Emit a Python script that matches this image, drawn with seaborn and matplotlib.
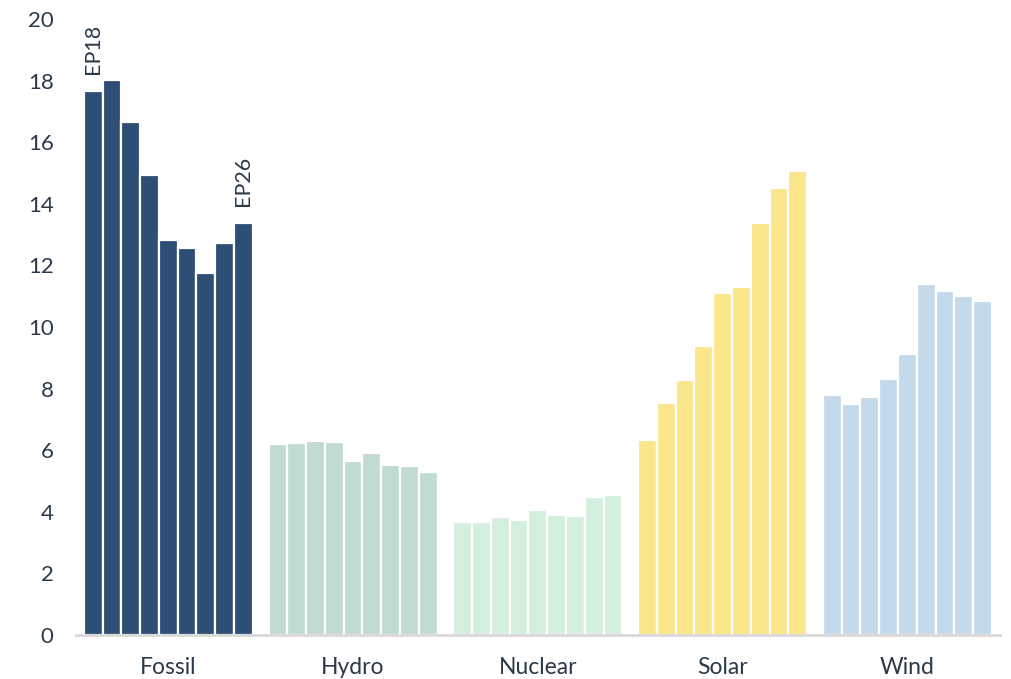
import numpy as np
import pandas as pd
import matplotlib
matplotlib.use("Agg")
import matplotlib.pyplot as plt
import seaborn as sns

# Energy sources and report editions
sources = ["Fossil", "Hydro", "Nuclear", "Solar", "Wind"]
editions = ["EP18", "EP19", "EP20", "EP21", "EP22", "EP23", "EP24", "EP25", "EP26"]

fossil = [17.66, 18.02, 16.64, 14.94, 12.82, 12.55, 11.74, 12.74, 13.39]
hydro = [6.19, 6.23, 6.31, 6.26, 5.65, 5.92, 5.53, 5.49, 5.30]
nuclear = [3.67, 3.65, 3.84, 3.72, 4.05, 3.89, 3.86, 4.48, 4.55]
solar = [6.33, 7.52, 8.28, 9.39, 11.11, 11.30, 13.38, 14.50, 15.06]
wind = [7.79, 7.50, 7.73, 8.31, 9.11, 11.41, 11.17, 11.01, 10.84]

source_colors = ["#2e4e75", "#c1dbd3", "#d5efdf", "#fbe68b", "#c4d9ea"]
text_color = "#2b3a4a"

values = [fossil, hydro, nuclear, solar, wind]
df = pd.DataFrame(
    [(s, e, v) for s, vals in zip(sources, values) for e, v in zip(editions, vals)],
    columns=["source", "edition", "value"],
)

sns.set_theme(style="white")
plt.rcParams["font.family"] = ["Lato", "DejaVu Sans"]

fig = plt.figure(figsize=(10.12, 6.79), dpi=100)
ax = fig.add_axes([0.075, 0.065, 0.913, 0.907])

sns.barplot(
    data=df, x="source", y="value", hue="edition",
    order=sources, hue_order=editions,
    width=0.915, gap=0, edgecolor="white", linewidth=1.6,
    legend=False, ax=ax, palette=["#888888"] * len(editions),
)

# Colour each bar by its energy source
for container in ax.containers:
    for i, bar in enumerate(container):
        bar.set_facecolor(source_colors[i])

# Edition labels above the first and last Fossil bars
first_bar = ax.containers[0][0]
last_bar = ax.containers[-1][0]
for bar, label in [(first_bar, editions[0]), (last_bar, editions[-1])]:
    ax.annotate(
        label,
        xy=(bar.get_x() + bar.get_width() / 2, bar.get_height()),
        xytext=(0, 12), textcoords="offset points",
        rotation=90, ha="center", va="bottom",
        fontsize=15.5, color=text_color,
    )

ax.set_ylim(0, 20)
ax.set_xlim(-0.5, 4.5)
ax.set_yticks(np.arange(0, 21, 2))
ax.set_xlabel("")
ax.set_ylabel("")
ax.tick_params(axis="both", length=0, labelsize=16, labelcolor=text_color)
ax.tick_params(axis="y", pad=16)
ax.tick_params(axis="x", labelsize=16.5, pad=16)

for side in ["top", "right", "left"]:
    ax.spines[side].set_visible(False)
ax.spines["bottom"].set_color("#d9d9d9")
ax.spines["bottom"].set_linewidth(2)

fig.savefig("out.png", dpi=100)
